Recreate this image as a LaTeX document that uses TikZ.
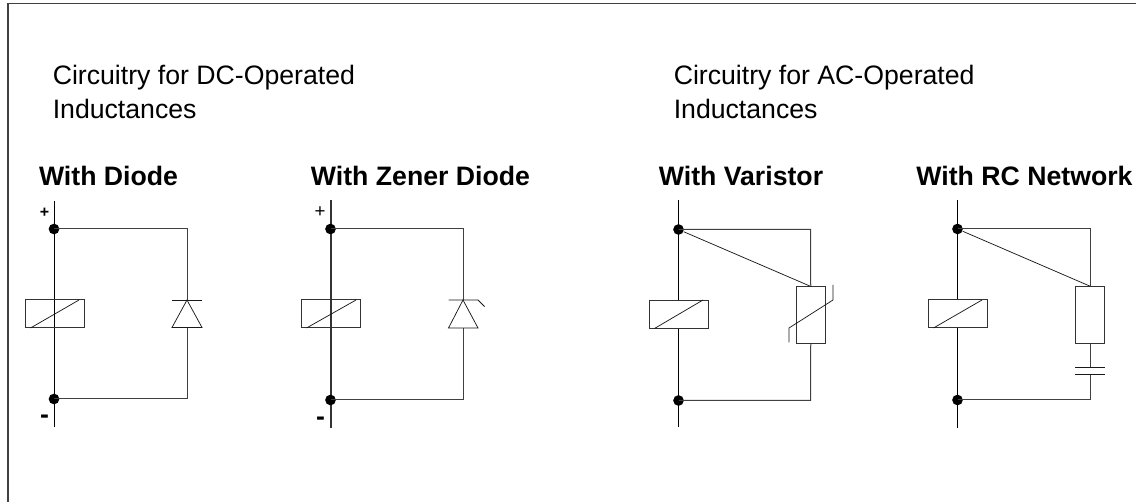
\documentclass[tikz,border=0pt]{standalone}
\usepackage{fontspec}
\setmainfont{Liberation Sans}
\begin{document}
\begin{tikzpicture}[x=0.75pt,y=-0.75pt,
  wire/.style={draw=black!75,line width=0.75pt},
  rail/.style={draw=black,line width=0.75pt},
  thin part/.style={draw=black!90,line width=0.55pt},
  coil/.style={rectangle,draw=black!80,line width=0.75pt,inner sep=0pt,minimum width=44.25pt,minimum height=21pt},
  resbox/.style={rectangle,draw=black!80,line width=0.75pt,fill=white,inner sep=0pt,minimum width=22pt,minimum height=42.5pt},
  dot/.style={circle,fill=black,inner sep=0pt,minimum size=8pt},
  head/.style={font=\fontsize{20}{22}\selectfont\bfseries,anchor=base,inner sep=0pt},
  body/.style={font=\fontsize{20}{25}\selectfont,anchor=base west,inner sep=0pt},
  sign/.style={font=\fontsize{12}{14}\selectfont\bfseries,inner sep=0pt},
  minus/.style={font=\fontsize{20}{20}\selectfont\bfseries,inner sep=0pt}]
\useasboundingbox (0,0) rectangle (1136,502);
\fill[white] (0,0) rectangle (1136,502);
\draw[line width=1pt,draw=black!75] (8,502) -- (8,3.5) -- (1136,3.5);
\node[body] (t1a) at (52.5,85) {Circuitry for DC-Operated};
\node[body] (t1b) at (52.5,119) {Inductances};
\node[body] (t2a) at (673.5,85) {Circuitry for AC-Operated};
\node[body] (t2b) at (673.5,119) {Inductances};
\node[head] (h1) at (108.5,185.5) {With Diode};
\node[head] (h2) at (420.5,185.5) {With Zener Diode};
\node[head] (h3) at (741,185.5) {With Varistor};
\node[head] (h4) at (1024.5,185.5) {With RC Network};
% panel 1
\coordinate (a1) at (54,201); \coordinate (b1) at (54,427);
\coordinate (c1) at (187,229); \coordinate (d1) at (187,399);
\draw[rail] (a1) -- (b1);
\node[dot] (p1) at (54,229) {}; \node[dot] (q1) at (54,399) {};
\node[coil] (k1) at (54.5,314) {};
\draw[thin part] (30.5,328) -- (79,300);
\coordinate (da1) at (187,300); \coordinate (dk1) at (187,327.5);
\draw[wire] (p1.center) -- (c1) -- (da1);
\draw[wire] (q1.center) -- (d1) -- (dk1);
\draw[thin part] (172,300) -- (202,300);
\draw[thin part] (da1) -- (172,327.5) -- (202,327.5) -- cycle;
\node[sign] (s1a) at (44.5,213) {+};
\node[minus,anchor=base] (s1b) at (44.5,424) {-};
% panel 2
\coordinate (a2) at (331,200); \coordinate (b2) at (331,428);
\coordinate (c2) at (463,229); \coordinate (d2) at (463,400);
\draw[rail,line width=1pt,draw=black!80] (a2) -- (b2);
\node[dot] (p2) at (330.5,229) {}; \node[dot] (q2) at (330.5,400) {};
\node[coil] (k2) at (330.5,314) {};
\draw[thin part] (306.5,328) -- (356,300);
\coordinate (da2) at (463,300); \coordinate (dk2) at (463,328);
\draw[wire] (p2.center) -- (c2) -- (da2);
\draw[wire] (q2.center) -- (d2) -- (dk2);
\draw[thin part] (448.5,300) -- (478,300) -- (484.5,306.5);
\draw[thin part] (da2) -- (448.5,328) -- (478,328) -- cycle;
\node[sign,font=\fontsize{14}{14}\selectfont] (s2a) at (320,212) {+};
\node[minus,anchor=base] (s2b) at (320.5,425.5) {-};
% panel 3
\coordinate (a3) at (678.5,200); \coordinate (b3) at (678.5,427);
\coordinate (c3) at (810.5,229.5); \coordinate (d3) at (810.5,400.5);
\draw[rail] (a3) -- (b3);
\node[dot] (p3) at (678.5,229.5) {}; \node[dot] (q3) at (678.5,400.5) {};
\node[coil,fill=white] (k3) at (678.5,314.25) {};
\draw[thin part] (654.5,328.5) -- (703,300);
\node[resbox] (r3) at (810.75,315.25) {};
\draw[wire] (p3.center) -- (c3) -- (r3.north);
\draw[wire] (q3.center) -- (d3) -- (r3.south);
\draw[thin part] (p3) -- (r3.north);
\draw[thin part] (789,342.5) -- (789,328) -- (833,300) -- (833,285);
% panel 4
\coordinate (a4) at (957.5,200); \coordinate (b4) at (957.5,428);
\coordinate (c4) at (1090,229); \coordinate (d4) at (1090,400);
\coordinate (u4) at (1090,367); \coordinate (v4) at (1090,374);
\draw[rail] (a4) -- (b4);
\node[dot] (p4) at (957.5,229) {}; \node[dot] (q4) at (957.5,400) {};
\node[coil,fill=white] (k4) at (957.5,314) {};
\draw[thin part] (933.5,328) -- (982,300);
\node[resbox] (r4) at (1090,315) {};
\draw[wire] (p4.center) -- (c4) -- (r4.north);
\draw[wire] (q4.center) -- (d4) -- (v4);
\draw[wire] (r4.south) -- (u4);
\draw[thin part] (p4) -- (r4.north);
\draw[thin part] (1075,367) -- (1105,367);
\draw[thin part] (1075,374) -- (1105,374);
\end{tikzpicture}
\end{document}
